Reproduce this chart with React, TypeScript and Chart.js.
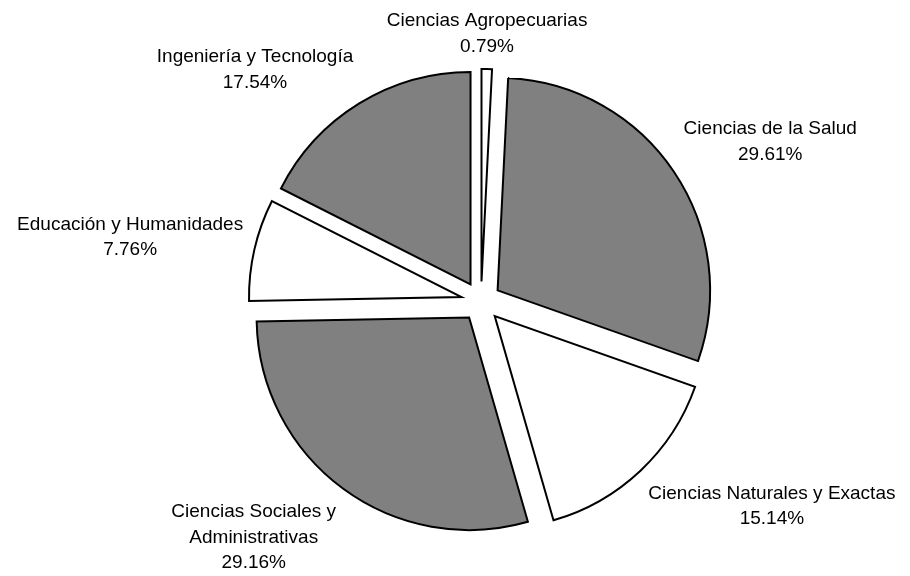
import { useEffect, useRef } from "react";
import { Chart, registerables } from "chart.js";

Chart.register(...registerables);

const categories = [
  "Ciencias Agropecuarias",
  "Ciencias de la Salud",
  "Ciencias Naturales y Exactas",
  "Ciencias Sociales y Administrativas",
  "Educación y Humanidades",
  "Ingeniería y Tecnología",
];
const percentages = [0.79, 29.61, 15.14, 29.16, 7.76, 17.54];
const sliceColors = ["#ffffff", "#808080", "#ffffff", "#808080", "#ffffff", "#808080"];

const EXPLODE = 20;
const RADIUS = 212.5;
const FONT = '19px "Liberation Sans", Arial, sans-serif';
const LINE_H = 25.5;
const LABEL_GAP = 11.5;
const WRAP_WIDTH = 270;

function side(v: number) {
  if (Math.abs(v) < 0.1) return 0;
  return Math.max(-1, Math.min(1, v * 2));
}

function wrapText(ctx: CanvasRenderingContext2D, text: string, maxW: number): string[] {
  const words = text.split(" ");
  const lines: string[] = [];
  let cur = "";
  for (const w of words) {
    const test = cur ? cur + " " + w : w;
    if (ctx.measureText(test).width > maxW && cur) {
      lines.push(cur);
      cur = w;
    } else {
      cur = test;
    }
  }
  if (cur) lines.push(cur);
  return lines;
}

const explodePlugin = {
  id: "explodeAndLabels",
  beforeDatasetDraw(chart: any, args: any) {
    const meta = chart.getDatasetMeta(args.index);
    const ctx = chart.ctx as CanvasRenderingContext2D;
    meta.data.forEach((arc: any) => {
      const mid = (arc.startAngle + arc.endAngle) / 2;
      ctx.save();
      ctx.translate(Math.cos(mid) * EXPLODE, Math.sin(mid) * EXPLODE);
      arc.draw(ctx);
      ctx.restore();
    });
    return false;
  },
  afterDraw(chart: any) {
    const meta = chart.getDatasetMeta(0);
    const ctx = chart.ctx as CanvasRenderingContext2D;
    ctx.save();
    ctx.font = FONT;
    ctx.fillStyle = "#000000";
    ctx.textAlign = "center";
    ctx.textBaseline = "alphabetic";
    meta.data.forEach((arc: any, i: number) => {
      const mid = (arc.startAngle + arc.endAngle) / 2;
      const dx = Math.cos(mid);
      const dy = Math.sin(mid);
      const dist = arc.outerRadius + EXPLODE + LABEL_GAP;
      const ax = arc.x + dx * dist;
      const ay = arc.y + dy * dist;
      const lines = [
        ...wrapText(ctx, categories[i], WRAP_WIDTH),
        percentages[i].toFixed(2) + "%",
      ];
      const w = Math.max(...lines.map((l) => ctx.measureText(l).width));
      const h = lines.length * LINE_H;
      const cx = ax + side(dx) * (w / 2);
      const cy = ay + side(dy) * (h / 2);
      lines.forEach((l, j) => {
        const capMid = cy - ((lines.length - 1) * LINE_H) / 2 + j * LINE_H;
        ctx.fillText(l, cx, capMid + 6.8);
      });
    });
    ctx.restore();
  },
};

export default function App() {
  const canvasRef = useRef<HTMLCanvasElement | null>(null);

  useEffect(() => {
    const canvas = canvasRef.current;
    if (!canvas) return;
    const chart = new Chart(canvas, {
      type: "pie",
      data: {
        labels: categories,
        datasets: [
          {
            data: percentages,
            backgroundColor: sliceColors,
            borderColor: "#000000",
            borderWidth: 2,
            borderJoinStyle: "miter",
            radius: RADIUS,
          } as any,
        ],
      },
      options: {
        responsive: false,
        animation: false,
        devicePixelRatio: 1,
        layout: { padding: { left: 52, top: 27, right: 0, bottom: 0 } },
        plugins: {
          legend: { display: false },
          tooltip: { enabled: false },
        },
      } as any,
      plugins: [explodePlugin as any],
    });
    return () => chart.destroy();
  }, []);

  return (
    <div style={{ position: "fixed", left: 0, top: 0, width: 910, height: 576, background: "#ffffff" }}>
      <canvas ref={canvasRef} width={910} height={576} style={{ display: "block" }} />
    </div>
  );
}
